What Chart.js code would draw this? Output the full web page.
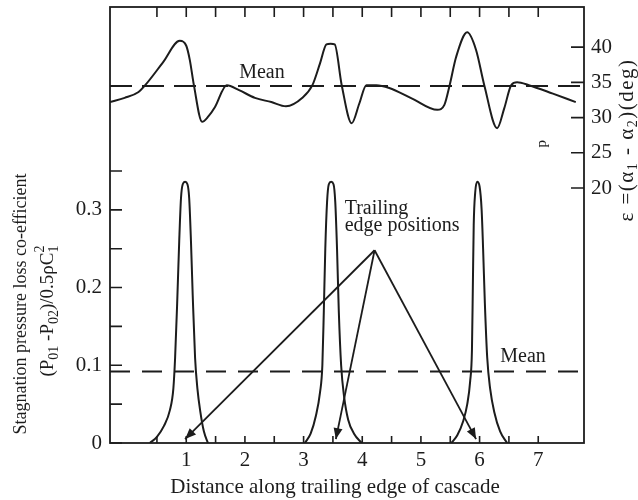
<!DOCTYPE html>
<html>
<head>
<meta charset="utf-8">
<title>Cascade wake traverse</title>
<script src="https://cdn.jsdelivr.net/npm/chart.js@4.4.0/dist/chart.umd.min.js"></script>
<style>
  body { margin: 0; background: #fff; }
  #wrap { width: 638px; height: 500px; }
</style>
</head>
<body>
<div id="wrap"><canvas id="chart_cascade" width="638" height="500"></canvas></div>
<script>
(function() {
    "use strict"

    // deflection angle trace (upper curve)
    var distEps = [-0.30, -0.05, 0.18, 0.30, 0.60, 0.89, 1.00, 1.06, 1.13, 1.27, 1.38, 1.49, 1.69, 1.90, 2.17, 2.45, 2.70, 2.98, 3.15, 3.28, 3.39, 3.46, 3.53, 3.65, 3.82, 3.95, 4.07, 4.24, 4.46, 4.85, 5.28, 5.40, 5.49, 5.60, 5.79, 5.94, 6.08, 6.30, 6.42, 6.54, 6.64, 6.84, 7.25, 7.64];
    var epsValues = [32.2, 32.8, 33.6, 34.6, 37.8, 40.9, 40.2, 38.2, 34.6, 29.4, 30.2, 31.5, 34.6, 33.9, 32.8, 32.2, 31.6, 32.8, 34.6, 37.7, 40.4, 40.5, 40.4, 34.6, 29.2, 32.0, 34.6, 34.6, 34.2, 32.7, 31.1, 31.8, 34.6, 38.6, 42.1, 39.6, 34.6, 28.5, 31.3, 34.6, 35.0, 34.6, 33.4, 32.2];
    var epsMean = 34.5;

    // stagnation pressure loss peaks (lower curves)
    var peak1X = [0.38, 0.50, 0.62, 0.72, 0.78, 0.81, 0.845, 0.88, 0.91, 0.94, 0.98, 1.02, 1.05, 1.08, 1.11, 1.15, 1.19, 1.24, 1.30, 1.37];
    var peak1Y = [0, 0.008, 0.022, 0.042, 0.07, 0.11, 0.18, 0.26, 0.315, 0.333, 0.336, 0.333, 0.315, 0.26, 0.19, 0.11, 0.07, 0.04, 0.015, 0];
    var peak2X = [3.02, 3.12, 3.21, 3.28, 3.32, 3.345, 3.37, 3.40, 3.43, 3.47, 3.51, 3.54, 3.57, 3.60, 3.64, 3.69, 3.76, 3.86, 3.99];
    var peak2Y = [0, 0.012, 0.035, 0.065, 0.1, 0.17, 0.25, 0.31, 0.333, 0.336, 0.333, 0.31, 0.25, 0.17, 0.1, 0.06, 0.03, 0.012, 0];
    var peak3X = [5.52, 5.62, 5.72, 5.79, 5.84, 5.87, 5.885, 5.90, 5.925, 5.96, 6.00, 6.035, 6.06, 6.09, 6.13, 6.18, 6.25, 6.35, 6.47];
    var peak3Y = [0, 0.01, 0.028, 0.05, 0.08, 0.12, 0.2, 0.28, 0.322, 0.336, 0.33, 0.3, 0.25, 0.18, 0.11, 0.07, 0.04, 0.015, 0];
    var lossMean = 0.092;

    // "Trailing edge positions" pointer
    var arrowFrom = [4.21, 0.248];
    var trailingEdges = [0.98, 3.55, 5.94];
    var arrowTipY = 0.005;

    // ticks
    var distTicks = [0.5, 1, 1.5, 2, 2.5, 3, 3.5, 4, 4.5, 5, 5.5, 6, 6.5, 7];
    var distLabels = [1, 2, 3, 4, 5, 6, 7];
    var lossTicks = [0, 0.05, 0.1, 0.15, 0.2, 0.25, 0.3, 0.35];
    var lossLabelVals = [0, 0.1, 0.2, 0.3];
    var lossLabels = ['0', '0.1', '0.2', '0.3'];
    var epsTicks = [20, 25, 30, 35, 40];

    var ink = '#1c1c1c';
    var serif = "'Liberation Serif', 'Times New Roman', serif";

    function pts(xs, ys) {
        return xs.map(function(x, i) { return {x: x, y: ys[i]}; });
    }

    function curve(data, axis) {
        return {
            data: data, yAxisID: axis, borderColor: ink, borderWidth: 2,
            pointRadius: 0, fill: false, cubicInterpolationMode: 'monotone'
        };
    }

    function dashed(val, axis, dash) {
        return {
            data: [{x: -0.3, y: val}, {x: 7.78, y: val}], yAxisID: axis,
            borderColor: ink, borderWidth: 2, borderDash: dash, pointRadius: 0, fill: false
        };
    }

    var datasets = [
        curve(pts(distEps, epsValues), 'y2'),
        dashed(epsMean, 'y2', [22, 10]),
        curve(pts(peak1X, peak1Y), 'y'),
        curve(pts(peak2X, peak2Y), 'y'),
        curve(pts(peak3X, peak3Y), 'y'),
        dashed(lossMean, 'y', [20, 12])
    ];
    trailingEdges.forEach(function(t) {
        datasets.push({
            data: [{x: arrowFrom[0], y: arrowFrom[1]}, {x: t, y: arrowTipY}], yAxisID: 'y',
            borderColor: ink, borderWidth: 1.8, pointRadius: 0, fill: false, isArrow: true
        });
    });

    // text with sub/superscripts: [text, kind] kind n normal, b sub, p sup, bz sub with no advance
    function richWidth(ctx, parts, size, r) {
        var w = 0;
        parts.forEach(function(p) {
            ctx.font = (p[1] === 'n' ? size : Math.round(size * r)) + 'px ' + serif;
            if (p[1] !== 'bz') w += ctx.measureText(p[0]).width;
        });
        return w;
    }
    function drawRich(ctx, parts, cx, cy, size, r) {
        var x = cx - richWidth(ctx, parts, size, r) / 2;
        ctx.textAlign = 'left';
        ctx.textBaseline = 'middle';
        parts.forEach(function(p) {
            var small = p[1] !== 'n';
            ctx.font = (small ? Math.round(size * r) : size) + 'px ' + serif;
            var dy = p[1] === 'p' ? -size * 0.4 : (small ? size * 0.32 : 0);
            ctx.fillText(p[0], x, cy + dy);
            if (p[1] !== 'bz') x += ctx.measureText(p[0]).width;
        });
    }

    function noPad(s) {
        s.paddingTop = 0; s.paddingBottom = 0; s.paddingLeft = 0; s.paddingRight = 0;
    }

    var decor = {
        id: 'decor',
        afterDatasetsDraw: function(chart) {
            var ctx = chart.ctx, a = chart.chartArea;
            var sx = chart.scales.x, sy = chart.scales.y, s2 = chart.scales.y2;
            ctx.save();
            ctx.strokeStyle = ink;
            ctx.fillStyle = ink;

            // frame
            ctx.lineWidth = 1.8;
            ctx.strokeRect(a.left, a.top, a.right - a.left, a.bottom - a.top);

            // inward tick marks
            ctx.lineWidth = 1.6;
            ctx.beginPath();
            distTicks.forEach(function(v) {
                var px = sx.getPixelForValue(v);
                ctx.moveTo(px, a.bottom); ctx.lineTo(px, a.bottom - 7);
                ctx.moveTo(px, a.top); ctx.lineTo(px, a.top + 10);
            });
            lossTicks.forEach(function(v) {
                var py = sy.getPixelForValue(v);
                ctx.moveTo(a.left, py); ctx.lineTo(a.left + 12, py);
            });
            epsTicks.forEach(function(v) {
                var py = s2.getPixelForValue(v);
                ctx.moveTo(a.right, py); ctx.lineTo(a.right - 13, py);
            });
            ctx.stroke();

            // arrow heads
            chart.data.datasets.forEach(function(ds, i) {
                if (!ds.isArrow) return;
                var m = chart.getDatasetMeta(i).data;
                var p0 = m[0], p1 = m[m.length - 1];
                var ang = Math.atan2(p1.y - p0.y, p1.x - p0.x);
                ctx.save();
                ctx.translate(p1.x, p1.y);
                ctx.rotate(ang);
                ctx.beginPath();
                ctx.moveTo(0, 0);
                ctx.lineTo(-11, -4.5);
                ctx.lineTo(-11, 4.5);
                ctx.closePath();
                ctx.fill();
                ctx.restore();
            });

            // annotations
            ctx.font = '20px ' + serif;
            ctx.textAlign = 'center';
            ctx.textBaseline = 'middle';
            ctx.fillText('Mean', sx.getPixelForValue(2.29), s2.getPixelForValue(36.3));
            ctx.fillText('Mean', sx.getPixelForValue(6.74), sy.getPixelForValue(0.111));
            ctx.textAlign = 'left';
            ctx.fillText('Trailing', sx.getPixelForValue(3.70), sy.getPixelForValue(0.302));
            ctx.fillText('edge positions', sx.getPixelForValue(3.70), sy.getPixelForValue(0.279));

            ctx.save();
            ctx.translate(sx.getPixelForValue(7.06), s2.getPixelForValue(26.3));
            ctx.rotate(-Math.PI / 2);
            ctx.font = '15px ' + serif;
            ctx.textAlign = 'center';
            ctx.fillText('p', 0, 0);
            ctx.restore();

            // axis titles
            ctx.font = '21px ' + serif;
            ctx.textAlign = 'center';
            ctx.fillText('Distance along trailing edge of cascade', 335, 487);

            ctx.save();
            ctx.translate(21, 304);
            ctx.rotate(-Math.PI / 2);
            ctx.font = '18px ' + serif;
            ctx.textAlign = 'center';
            ctx.fillText('Stagnation pressure loss co-efficient', 0, 0);
            ctx.restore();

            ctx.save();
            ctx.translate(48, 311);
            ctx.rotate(-Math.PI / 2);
            drawRich(ctx, [['(P', 'n'], ['01', 'b'], [' -P', 'n'], ['02', 'b'], [')/0.5\u03c1C', 'n'], ['1', 'bz'], ['2', 'p']], 0, 0, 19, 0.75);
            ctx.restore();

            ctx.save();
            ctx.translate(627, 140);
            ctx.rotate(-Math.PI / 2);
            ctx.letterSpacing = '1.5px';
            drawRich(ctx, [['\u03b5 =(\u03b1', 'n'], ['1', 'b'], [' - \u03b1', 'n'], ['2', 'b'], [')(deg)', 'n']], 0, 0, 21, 0.65);
            ctx.letterSpacing = '0px';
            ctx.restore();

            ctx.restore();
        }
    };

    Chart.defaults.font.family = serif;
    Chart.defaults.font.size = 21;
    Chart.defaults.color = ink;

    var ctx = document.getElementById('chart_cascade').getContext('2d');
    var myChart = new Chart(ctx, {
        type: 'line',
        data: { datasets: datasets },
        options: {
            responsive: false,
            animation: false,
            layout: { padding: { top: 7, left: 0, right: 0, bottom: 0 } },
            plugins: { legend: { display: false }, tooltip: { enabled: false } },
            scales: {
                x: {
                    type: 'linear', min: -0.3, max: 7.78,
                    grid: { display: false, drawTicks: false }, border: { display: false },
                    afterBuildTicks: function(s) { s.ticks = distTicks.map(function(v) { return {value: v}; }); },
                    ticks: {
                        autoSkip: false, maxRotation: 0, padding: 5,
                        callback: function(v) { return distLabels.indexOf(v) >= 0 ? String(v) : ''; }
                    },
                    afterFit: function(s) { s.height = 57; noPad(s); }
                },
                y: {
                    type: 'linear', position: 'left', min: 0, max: 0.561,
                    grid: { display: false, drawTicks: false }, border: { display: false },
                    afterBuildTicks: function(s) { s.ticks = lossTicks.map(function(v) { return {value: v}; }); },
                    ticks: {
                        autoSkip: false, padding: 8,
                        callback: function(v) {
                            for (var i = 0; i < lossLabelVals.length; i++) {
                                if (Math.abs(v - lossLabelVals[i]) < 1e-6) return lossLabels[i];
                            }
                            return '';
                        }
                    },
                    afterFit: function(s) { s.width = 110; noPad(s); }
                },
                y2: {
                    type: 'linear', position: 'right', min: -16.2, max: 45.7,
                    grid: { display: false, drawTicks: false }, border: { display: false },
                    afterBuildTicks: function(s) { s.ticks = epsTicks.map(function(v) { return {value: v}; }); },
                    ticks: { autoSkip: false, padding: 7 },
                    afterFit: function(s) { s.width = 54; noPad(s); }
                }
            }
        },
        plugins: [decor]
    });
})();
</script>
</body>
</html>
